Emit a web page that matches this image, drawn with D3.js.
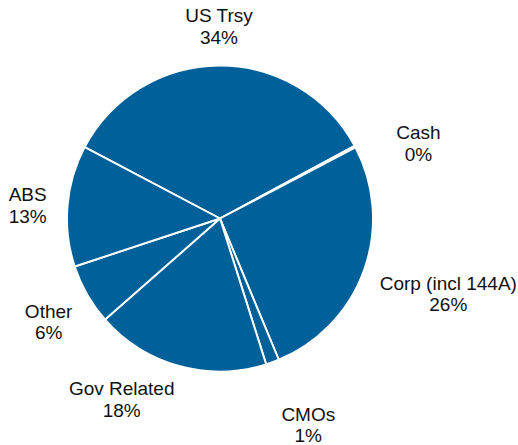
<!DOCTYPE html>
<html>
<head>
<meta charset="utf-8">
<script src="https://cdn.jsdelivr.net/npm/d3@7"></script>
<style>
  html, body { margin: 0; padding: 0; background: #ffffff; }
  svg { display: block; }
  text { font-family: "Liberation Sans", Arial, sans-serif; font-size: 19px; fill: #111111; }
</style>
</head>
<body>
<svg id="chart" width="518" height="445"></svg>
<script>
// ---- data ----
const categories = ["US Trsy", "Cash", "Corp (incl 144A)", "CMOs", "Gov Related", "Other", "ABS"];
const values = [34.4, 0.2, 26.4, 1.4, 18.4, 6.4, 12.8];
const percentLabels = ["34%", "0%", "26%", "1%", "18%", "6%", "13%"];

// ---- layout (not data) ----
const W = 518, H = 445;
const cx = 220, cy = 218.5, R = 153;
const startDeg = -62.2;
const labelRadius = 172;
const labelHalfH = 20;
const lineGap = 21.3;
// residual label nudges (like a manual best-fit adjustment)
const labelNudge = [[0, 1], [27, 16], [2, 11], [20, 27], [-38, -3], [-1.5, 9], [-2, 4]];
const fillColor = "#00619A";

const svg = d3.select("#chart");
const g = svg.append("g").attr("transform", `translate(${cx},${cy})`);

const data = categories.map((c, i) => ({ name: c, value: values[i], pct: percentLabels[i], i }));

const start = startDeg * Math.PI / 180;
const pie = d3.pie().value(d => d.value).sort(null)
  .startAngle(start).endAngle(start + 2 * Math.PI);
const arcs = pie(data);
const arc = d3.arc().innerRadius(0).outerRadius(R);

g.selectAll("path.slice")
  .data(arcs)
  .join("path")
  .attr("class", "slice")
  .attr("d", arc)
  .attr("fill", fillColor)
  .attr("stroke", "#ffffff")
  .attr("stroke-width", 1.9)
  .attr("stroke-linejoin", "round");

// labels: one text element per slice, two lines as tspans
g.selectAll("text.lbl")
  .data(arcs)
  .join("text")
  .attr("class", "lbl")
  .attr("text-anchor", "middle")
  .each(function (d) {
    const t = d3.select(this);
    const s1 = t.append("tspan").text(d.data.name);
    const s2 = t.append("tspan").text(d.data.pct);
    const w = Math.max(s1.node().getComputedTextLength(), s2.node().getComputedTextLength());
    const a = (d.startAngle + d.endAngle) / 2;
    const s = Math.sin(a), c = -Math.cos(a);
    const px = s * labelRadius, py = c * labelRadius;
    const nx = labelNudge[d.data.i][0], ny = labelNudge[d.data.i][1];
    const bx = px + s * w / 2 + nx;
    const by = py + c * labelHalfH + ny;
    const mid = by - 3.75 + 18.5 / 2;
    s1.attr("x", bx).attr("y", mid - lineGap / 2);
    s2.attr("x", bx).attr("y", mid + lineGap / 2);
  });
</script>
</body>
</html>
